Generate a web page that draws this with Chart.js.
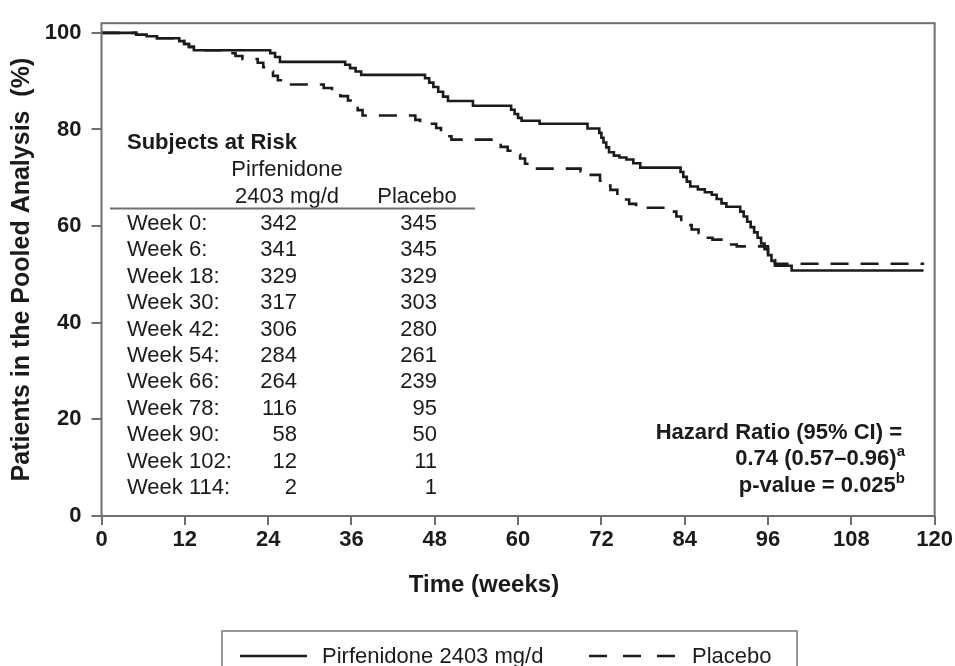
<!DOCTYPE html>
<html>
<head>
<meta charset="utf-8">
<script src="https://cdn.jsdelivr.net/npm/chart.js@4"></script>
<style>
  html, body { margin: 0; padding: 0; background: #fff; }
  #wrap { position: relative; width: 955px; height: 666px; }
</style>
</head>
<body>
<div id="wrap"><canvas id="kmChart"></canvas></div>
<script>
// Kaplan-Meier estimates (% of patients), each value applies from its week onward
const pirfWeeks = [0, 5.0, 6.5, 8.0, 11.2, 11.9, 12.6, 13.3, 24.3, 25.0, 25.7,
  35.1, 35.8, 36.6, 37.4, 46.6, 47.2, 47.8, 48.5, 49.2, 49.9, 53.5,
  59.0, 59.5, 60.0, 60.5, 63.1, 70.0, 71.7, 72.0, 72.3, 72.7, 73.1, 73.8,
  74.6, 75.6, 76.6, 77.6, 83.4, 83.8, 84.3, 84.8, 85.9, 86.9, 87.9, 88.6,
  89.3, 90.0, 92.0, 92.5, 93.0, 93.5, 94.0, 94.5, 95.0, 95.5, 96.0, 96.5,
  97.0, 99.4, 118.4];
const pirfPct = [100, 99.6, 99.3, 98.9, 98.3, 97.7, 97.1, 96.4, 95.8, 95.0, 94.0,
  93.4, 92.7, 92.0, 91.3, 90.6, 89.7, 88.8, 87.8, 86.8, 85.9, 84.9,
  84.1, 83.2, 82.4, 81.8, 81.2, 80.2, 79.3, 78.3, 77.3, 76.3, 75.3, 74.6,
  74.2, 73.8, 73.0, 72.1, 71.2, 70.2, 69.2, 68.2, 67.6, 67.0, 66.5, 65.6,
  64.7, 64.0, 63.0, 62.0, 60.9, 59.8, 58.7, 57.6, 56.4, 55.2, 54.0, 52.8,
  51.8, 50.8, 50.8];

const placeboWeeks = [0, 5.0, 6.5, 8.0, 11.2, 11.9, 12.6, 13.3, 18.3, 19.3, 20.3,
  22.5, 23.3, 24.0, 24.7, 25.4, 26.1, 32.0, 33.2, 34.4, 35.5, 36.2, 36.9,
  37.6, 45.2, 45.9, 48.2, 48.9, 49.6, 50.4, 56.5, 57.5, 58.5, 59.5, 60.3,
  61.0, 61.7, 69.0, 70.0, 71.8, 72.5, 73.3, 74.3, 75.1, 76.0, 77.0, 82.0,
  82.8, 83.5, 84.2, 85.0, 86.0, 87.0, 88.0, 89.5, 90.5, 91.5, 96.0, 96.5,
  97.0, 118.5];
const placeboPct = [100, 99.6, 99.3, 98.9, 98.3, 97.7, 97.1, 96.4, 95.8, 95.2, 94.6,
  93.8, 92.9, 92.0, 91.1, 90.2, 89.3, 88.6, 87.8, 86.9, 86.0, 85.0, 84.0,
  82.9, 82.0, 81.2, 80.3, 79.4, 78.6, 77.9, 77.2, 76.4, 75.6, 74.8, 74.0,
  72.9, 71.9, 71.3, 70.6, 69.4, 68.4, 67.5, 66.4, 65.5, 64.6, 63.8, 63.0,
  62.0, 61.0, 60.2, 59.3, 58.6, 57.6, 57.2, 56.7, 56.2, 55.8, 54.0, 53.0,
  52.2, 52.2];

// Subjects at risk
const riskWeeks = [0, 6, 18, 30, 42, 54, 66, 78, 90, 102, 114];
const riskPirf = [342, 341, 329, 317, 306, 284, 264, 116, 58, 12, 2];
const riskPlacebo = [345, 345, 329, 303, 280, 261, 239, 95, 50, 11, 1];

const xTicks = [0, 12, 24, 36, 48, 60, 72, 84, 96, 108, 120];
const yTicks = [0, 20, 40, 60, 80, 100];

const FONT = '"Liberation Sans", Arial, sans-serif';
const INK = '#1b1b1b';
const FRAME = '#6f6f6f';

const toPoints = (xs, ys) => xs.map((x, i) => ({ x: x, y: ys[i] }));

// frame, risk table, hazard ratio note, x title and legend
const extras = {
  id: 'extras',
  afterDraw(chart) {
    const ctx = chart.ctx;
    const a = chart.chartArea;
    ctx.save();

    ctx.strokeStyle = FRAME;
    ctx.lineWidth = 2;
    ctx.strokeRect(a.left, a.top, a.right - a.left, a.bottom - a.top);

    ctx.fillStyle = INK;
    ctx.textBaseline = 'middle';

    // risk table
    ctx.font = 'bold 22px ' + FONT;
    ctx.textAlign = 'left';
    ctx.fillText('Subjects at Risk', 127, 143);
    ctx.font = '22px ' + FONT;
    ctx.textAlign = 'center';
    ctx.fillText('Pirfenidone', 287, 170);
    ctx.fillText('2403 mg/d', 287, 197);
    ctx.fillText('Placebo', 417, 197);
    ctx.beginPath();
    ctx.moveTo(110, 208.5);
    ctx.lineTo(475, 208.5);
    ctx.stroke();
    riskWeeks.forEach((w, i) => {
      const y = 224 + i * 26.4;
      ctx.textAlign = 'left';
      ctx.fillText('Week ' + w + ':', 127, y);
      ctx.textAlign = 'right';
      ctx.fillText(String(riskPirf[i]), 297, y);
      ctx.fillText(String(riskPlacebo[i]), 437, y);
    });

    // hazard ratio note
    const rightEdge = (text, sup, right, y) => {
      ctx.font = 'bold 22px ' + FONT;
      let supW = 0;
      if (sup) {
        ctx.font = 'bold 15px ' + FONT;
        supW = ctx.measureText(sup).width;
        ctx.textAlign = 'right';
        ctx.fillText(sup, right, y - 7);
        ctx.font = 'bold 22px ' + FONT;
      }
      ctx.textAlign = 'right';
      ctx.fillText(text, right - supW, y);
    };
    rightEdge('Hazard Ratio (95% CI) =', '', 902, 433);
    rightEdge('0.74 (0.57\u20130.96)', 'a', 905, 459);
    rightEdge('p-value = 0.025', 'b', 905, 486);

    // x axis title
    ctx.font = 'bold 24px ' + FONT;
    ctx.textAlign = 'center';
    ctx.fillText('Time (weeks)', 484, 585);

    // legend
    ctx.strokeStyle = '#777';
    ctx.lineWidth = 1.5;
    ctx.strokeRect(222, 631, 575, 60);
    ctx.strokeStyle = INK;
    ctx.lineWidth = 2.6;
    ctx.beginPath();
    ctx.moveTo(240, 656);
    ctx.lineTo(307, 656);
    ctx.stroke();
    ctx.setLineDash([18, 16]);
    ctx.beginPath();
    ctx.moveTo(589, 656);
    ctx.lineTo(675, 656);
    ctx.stroke();
    ctx.setLineDash([]);
    ctx.font = '22px ' + FONT;
    ctx.textAlign = 'left';
    ctx.fillText('Pirfenidone 2403 mg/d', 322, 657);
    ctx.fillText('Placebo', 692, 657);

    ctx.restore();
  }
};

new Chart(document.getElementById('kmChart'), {
  type: 'line',
  data: {
    datasets: [
      {
        label: 'Pirfenidone 2403 mg/d',
        data: toPoints(pirfWeeks, pirfPct),
        borderColor: INK,
        borderWidth: 2.6,
        stepped: true,
        pointRadius: 0,
        fill: false
      },
      {
        label: 'Placebo',
        data: toPoints(placeboWeeks, placeboPct),
        borderColor: INK,
        borderWidth: 2.6,
        borderDash: [18, 12],
        stepped: true,
        pointRadius: 0,
        fill: false
      }
    ]
  },
  options: {
    responsive: true,
    maintainAspectRatio: false,
    animation: false,
    layout: { padding: { left: 0, top: 12, right: 19, bottom: 0 } },
    plugins: {
      legend: { display: false },
      tooltip: { enabled: false }
    },
    scales: {
      x: {
        type: 'linear',
        min: 0,
        max: 120,
        afterBuildTicks: s => { s.ticks = xTicks.map(v => ({ value: v })); },
        afterFit: s => { s.height = 150; },
        border: { display: false },
        grid: { drawOnChartArea: false, drawTicks: true, tickLength: 9, color: FRAME, lineWidth: 2 },
        ticks: { color: INK, padding: 2, maxRotation: 0, font: { family: FONT, size: 22, weight: 'bold' } }
      },
      y: {
        type: 'linear',
        min: 0,
        max: 102,
        afterBuildTicks: s => { s.ticks = yTicks.map(v => ({ value: v })); },
        afterFit: s => { s.width = 101.5; },
        border: { display: false },
        grid: { drawOnChartArea: false, drawTicks: true, tickLength: 10, color: FRAME, lineWidth: 2 },
        ticks: { color: INK, padding: 10, font: { family: FONT, size: 22, weight: 'bold' } },
        title: {
          display: true,
          text: 'Patients in the Pooled Analysis  (%)',
          color: INK,
          padding: { top: 7, bottom: 0 },
          font: { family: FONT, size: 25, weight: 'bold' }
        }
      }
    }
  },
  plugins: [extras]
});
</script>
</body>
</html>
